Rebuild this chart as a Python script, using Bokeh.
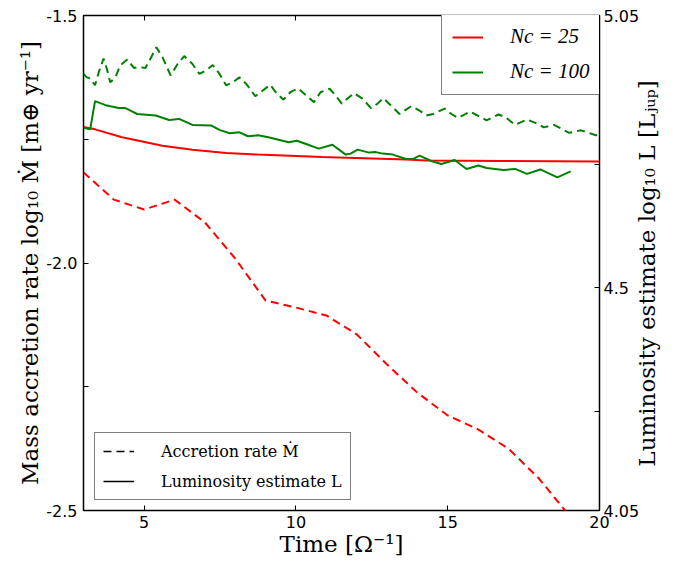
import math
from bokeh.plotting import figure
from bokeh.models import (Range1d, LinearAxis, FixedTicker, Legend, LegendItem,
                          CustomJSTickFormatter)
from bokeh.embed import file_html
from bokeh.resources import INLINE

# ---------------- data ----------------
# Accretion rate log10 Mdot (left axis), N_c = 25 (red dashed)
t_acc_25 = [3, 4, 5, 6, 7, 8, 9, 10, 11, 12, 13, 14, 15, 16, 17, 18, 19]
acc_25 = [-1.817, -1.872, -1.892, -1.872, -1.918, -1.991, -2.076, -2.090, -2.106,
          -2.144, -2.205, -2.262, -2.308, -2.336, -2.375, -2.435, -2.510]

# Accretion rate log10 Mdot (left axis), N_c = 100 (green dashed)
t_acc_100 = [3.00, 3.11, 3.22, 3.38, 3.50, 3.66, 3.77, 3.88, 4.05, 4.21, 4.44, 4.66,
             4.82, 5.04, 5.21, 5.40, 5.60, 5.87, 6.10, 6.32, 6.59, 6.82, 7.03, 7.26,
             7.48, 7.70, 7.92, 8.14, 8.36, 8.66, 9.15, 9.37, 9.59, 9.81, 10.07, 10.31,
             10.59, 10.81, 11.11, 11.31, 11.51, 11.69, 11.91, 12.19, 12.47, 12.69,
             12.88, 13.13, 13.41, 13.63, 13.80, 14.07, 14.29, 14.52, 14.90, 15.12,
             15.35, 15.73, 15.95, 16.28, 16.67, 16.89, 17.22, 17.61, 17.89, 18.17,
             18.50, 18.72, 19.00, 19.38, 19.60, 19.88, 20.05]
acc_100 = [-1.618, -1.625, -1.627, -1.641, -1.615, -1.587, -1.608, -1.635, -1.625,
           -1.601, -1.589, -1.606, -1.604, -1.606, -1.587, -1.564, -1.584, -1.621,
           -1.598, -1.582, -1.598, -1.618, -1.611, -1.600, -1.618, -1.641, -1.635,
           -1.625, -1.638, -1.663, -1.640, -1.658, -1.670, -1.655, -1.647, -1.660,
           -1.675, -1.655, -1.648, -1.662, -1.678, -1.668, -1.657, -1.668, -1.687,
           -1.678, -1.667, -1.682, -1.699, -1.690, -1.683, -1.692, -1.702, -1.699,
           -1.688, -1.699, -1.707, -1.694, -1.701, -1.712, -1.700, -1.705, -1.721,
           -1.710, -1.717, -1.726, -1.721, -1.728, -1.737, -1.732, -1.736, -1.742,
           -1.739]

# Luminosity estimate log10 L (right axis), N_c = 25 (red solid)
t_lum_25 = [3.00, 3.38, 4.27, 5.60, 6.59, 7.70, 8.75, 10.86, 13.63, 14.29, 16.78, 20.0]
lum_25 = [4.825, 4.820, 4.804, 4.787, 4.779, 4.772, 4.769, 4.764, 4.759, 4.757,
          4.756, 4.755]

# Luminosity estimate log10 L (right axis), N_c = 100 (green solid)
t_lum_100 = [3.00, 3.22, 3.38, 3.77, 4.16, 4.38, 4.55, 4.77, 5.38, 5.82, 6.15, 6.59,
             7.20, 7.48, 7.81, 8.14, 8.42, 8.75, 9.09, 9.76, 10.03, 10.31, 10.75,
             11.20, 11.64, 11.80, 12.03, 12.41, 12.63, 12.86, 13.19, 13.63, 13.85,
             14.07, 14.46, 14.79, 15.23, 15.62, 16.01, 16.28, 16.84, 17.22, 17.61,
             18.05, 18.61, 19.05]
lum_100 = [4.823, 4.820, 4.877, 4.868, 4.863, 4.863, 4.858, 4.851, 4.848, 4.839,
           4.841, 4.829, 4.828, 4.819, 4.812, 4.814, 4.806, 4.808, 4.804, 4.794,
           4.797, 4.791, 4.781, 4.789, 4.769, 4.771, 4.779, 4.773, 4.774, 4.771,
           4.769, 4.760, 4.760, 4.767, 4.756, 4.750, 4.758, 4.740, 4.747, 4.742,
           4.738, 4.740, 4.730, 4.739, 4.723, 4.735]

x_ticks = [5, 10, 15, 20]
left_ticks = [-2.5, -2.0, -1.5]
left_minor = [-2.25, -1.75]
right_ticks = [4.05, 4.5, 5.05]
right_minor = [4.25, 4.75]

legend_series = ["Nc = 25", "Nc = 100"]
legend_styles = ["Accretion rate Ṁ", "Luminosity estimate L"]
right_label = "Luminosity estimate log₁₀ L [Lⱼᵤₚ]"

RED = "#ff0000"
GREEN = "#008000"
TICK_FONT = "DejaVu Sans"
LABEL_FONT = "DejaVu Serif"
NAN = float("nan")
NBSP = "\u00a0"

# ---------------- figure ----------------
p = figure(width=676, height=564, output_backend="svg", toolbar_location=None,
           x_range=Range1d(3, 20), y_range=Range1d(-2.5, -1.5),
           min_border_left=83, min_border_right=77, min_border_top=15,
           min_border_bottom=54)
p.extra_y_ranges = {"lum": Range1d(4.05, 5.05)}
p.grid.visible = False
p.background_fill_color = "white"
p.border_fill_color = "white"
p.outline_line_color = "black"
p.outline_line_width = 1.5


def style(ax):
    ax.axis_line_color = None
    ax.major_tick_in = 5
    ax.major_tick_out = 0
    ax.minor_tick_in = 5
    ax.minor_tick_out = 0
    ax.major_tick_line_color = "black"
    ax.minor_tick_line_color = "black"
    ax.major_label_text_font = TICK_FONT
    ax.major_label_text_font_size = "16px"
    ax.major_label_text_color = "black"
    ax.axis_label_text_font = LABEL_FONT
    ax.axis_label_text_font_size = "23px"
    ax.axis_label_text_font_style = "normal"
    ax.axis_label_text_color = "black"
    ax.axis_label_standoff = 0


xa = p.xaxis[0]
style(xa)
xa.ticker = FixedTicker(ticks=x_ticks)
xa.axis_label = "Time [Ω⁻¹]"
xa.major_label_standoff = 5

ya = p.yaxis[0]
style(ya)
ya.ticker = FixedTicker(ticks=left_ticks, minor_ticks=left_minor)
ya.formatter = CustomJSTickFormatter(code="return tick.toFixed(1)")
ya.axis_label = "Mass accretion rate log₁₀ Ṁ [m⊕ yr⁻¹]"
ya.major_label_standoff = 6

ra = LinearAxis(y_range_name="lum",
                ticker=FixedTicker(ticks=right_ticks, minor_ticks=right_minor),
                formatter=CustomJSTickFormatter(code="return String(tick)"))
style(ra)
ra.major_label_standoff = 4
# title reading bottom to top, starting a little above the bottom of the frame
ra.axis_label = NBSP * 6 + right_label
ra.axis_label_orientation = math.pi / 2
ra.axis_label_align = "start"
ra.axis_label_standoff = 5
p.add_layout(ra, "right")

ta = LinearAxis(ticker=FixedTicker(ticks=x_ticks),
                formatter=CustomJSTickFormatter(code="return ''"))
style(ta)
ta.major_label_standoff = 0
p.add_layout(ta, "above")

# ---------------- lines ----------------
p.line(t_acc_25, acc_25, line_color=RED, line_width=2, line_dash="8 5")
p.line(t_acc_100, acc_100, line_color=GREEN, line_width=2, line_dash="8 5")
r25 = p.line(t_lum_25, lum_25, line_color=RED, line_width=2, y_range_name="lum")
r100 = p.line(t_lum_100, lum_100, line_color=GREEN, line_width=2, y_range_name="lum")

# legend-only samples (a single NaN point draws nothing in the frame)
d_dash = p.line(x=[NAN], y=[NAN], line_color="black", line_width=1.5, line_dash="8 5")
d_solid = p.line(x=[NAN], y=[NAN], line_color="black", line_width=1.5)

# ---------------- legends ----------------
leg1 = Legend(items=[LegendItem(label=legend_series[0], renderers=[r25]),
                     LegendItem(label=legend_series[1], renderers=[r100])],
              location=(358, 415))
leg2 = Legend(items=[LegendItem(label=legend_styles[0], renderers=[d_dash]),
                     LegendItem(label=legend_styles[1], renderers=[d_solid])],
              location=(11, 10))
settings = ((leg1, "italic", "21px", "Liberation Serif", 10),
            (leg2, "normal", "16px", LABEL_FONT, 8))
for lg, style_font, fsize, font, pad in settings:
    lg.padding = pad
    lg.spacing = 10
    lg.margin = 0
    lg.glyph_width = 31
    lg.glyph_height = 20
    lg.label_height = 20
    lg.label_standoff = 27
    lg.label_text_font = font
    lg.label_text_font_size = fsize
    lg.label_text_font_style = style_font
    lg.label_text_color = "black"
    lg.border_line_color = "black"
    lg.border_line_width = 1.5
    lg.background_fill_color = "white"
    lg.background_fill_alpha = 1.0
    p.add_layout(lg, "center")

open("out.html", "w").write(file_html(p, INLINE))
